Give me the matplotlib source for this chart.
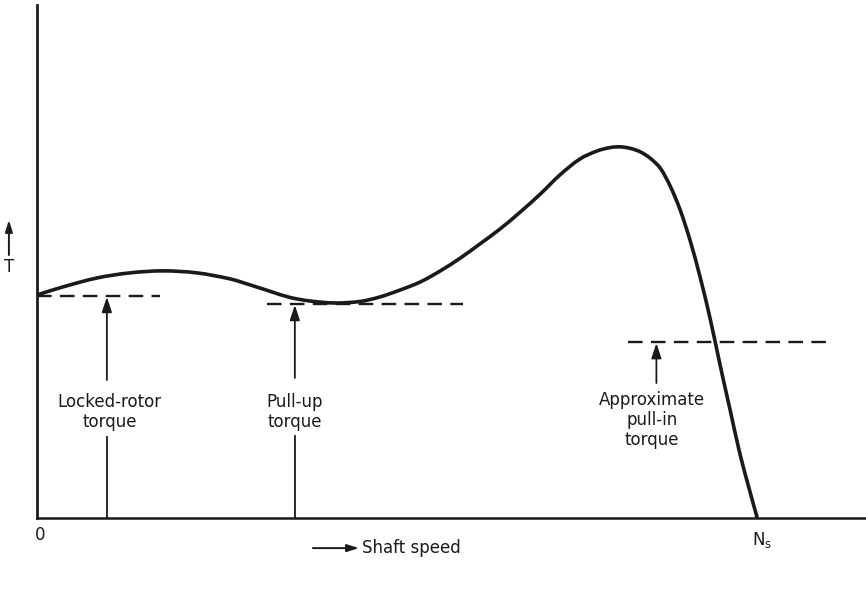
import matplotlib
matplotlib.use("Agg")
import matplotlib.pyplot as plt
import numpy as np
from matplotlib.path import Path
from matplotlib.patches import PathPatch

plt.rcParams['font.family'] = ['DejaVu Sans']
plt.rcParams['mathtext.default'] = 'regular'
plt.rcParams['lines.scale_dashes'] = False

# Torque-speed curve (speed as fraction of synchronous speed Ns, torque relative to locked-rotor)
speed = [0.000, 0.036, 0.083, 0.129, 0.175, 0.222, 0.268, 0.296, 0.324, 0.351,
         0.379, 0.414, 0.449, 0.476, 0.504, 0.532, 0.560, 0.588, 0.615, 0.643,
         0.671, 0.699, 0.726, 0.754, 0.778, 0.796, 0.810, 0.824, 0.838, 0.851,
         0.865, 0.879, 0.893, 0.907, 0.921, 0.935, 0.949, 0.963, 0.976, 0.990,
         1.000]
torque = [1.000, 1.036, 1.076, 1.099, 1.108, 1.099, 1.072, 1.045, 1.016, 0.989,
          0.973, 0.964, 0.971, 0.991, 1.022, 1.058, 1.108, 1.166, 1.229, 1.296,
          1.372, 1.453, 1.538, 1.610, 1.646, 1.661, 1.664, 1.657, 1.641, 1.614,
          1.570, 1.489, 1.381, 1.242, 1.076, 0.888, 0.677, 0.475, 0.287, 0.117,
          0.000]

# Reference torque levels (dashed lines)
ref_labels = ["Locked-rotor\ntorque", "Pull-up\ntorque", "Approximate\npull-in\ntorque"]
ref_levels = [0.996, 0.960, 0.789]
ref_x0 = [0.000, 0.319, 0.821]
ref_x1 = [0.171, 0.592, 1.104]
arrow_x = [0.097, 0.358, 0.860]
arrow_tail = [0.619, 0.628, 0.605]
lower_line_top = [0.363, 0.368, None]
label_x = [0.101, 0.358, 0.854]
label_y = [0.475, 0.475, 0.439]

INK = '#1a1a1a'

fig = plt.figure(figsize=(8.66, 5.90), dpi=100)
ax = fig.add_axes([37/866, 72/590, 829/866, 513/590])
ax.set_xlim(0, 1.151)
ax.set_ylim(0, 2.300)
for s in ['top', 'right']:
    ax.spines[s].set_visible(False)
ax.spines['left'].set_linewidth(2.0)
ax.spines['bottom'].set_linewidth(1.8)
ax.spines['left'].set_color(INK)
ax.spines['bottom'].set_color(INK)
ax.set_xticks([])
ax.set_yticks([])

# smooth curve through the read points (chord-length Hermite rendered as cubic Bezier path)
scale = np.array([720.0, 223.0])          # approximate display aspect, for arc-length weighting
Q = np.column_stack([speed, torque]) * scale
d = np.linalg.norm(np.diff(Q, axis=0), axis=1)
m = np.zeros_like(Q)
m[0] = (Q[1] - Q[0]) / d[0]
m[-1] = (Q[-1] - Q[-2]) / d[-1]
for i in range(1, len(Q) - 1):
    m[i] = (Q[i + 1] - Q[i - 1]) / (d[i - 1] + d[i])
verts = [tuple(Q[0] / scale)]
codes = [Path.MOVETO]
for i in range(len(Q) - 1):
    c1 = Q[i] + m[i] * d[i] / 3.0
    c2 = Q[i + 1] - m[i + 1] * d[i] / 3.0
    verts += [tuple(c1 / scale), tuple(c2 / scale), tuple(Q[i + 1] / scale)]
    codes += [Path.CURVE4] * 3
ax.add_patch(PathPatch(Path(verts, codes), fill=False, edgecolor=INK, lw=2.6,
                       capstyle='butt', joinstyle='round', zorder=3))

for lvl, x0, x1 in zip(ref_levels, ref_x0, ref_x1):
    ax.plot([x0, x1], [lvl, lvl], color=INK, lw=1.7, dashes=(10.5, 6.0), zorder=2)

for axx, lvl, tail, low, lab, lx, ly in zip(arrow_x, ref_levels, arrow_tail,
                                             lower_line_top, ref_labels, label_x, label_y):
    ax.annotate('', xy=(axx, lvl - 0.005), xytext=(axx, tail),
                arrowprops=dict(arrowstyle='-|>,head_length=0.9,head_width=0.3',
                                color=INK, lw=1.3, shrinkA=0, shrinkB=0))
    if low is not None:
        ax.plot([axx, axx], [0, low], color=INK, lw=1.3)
    ax.text(lx, ly, lab, ha='center', va='center', fontsize=12, linespacing=1.15, color=INK)

# axis annotations
ax.text(0.004, -0.076, "0", ha='center', va='center', fontsize=12, color=INK, clip_on=False)
ax.text(1.006, -0.099, "N$_s$", ha='center', va='center', fontsize=12, color=INK, clip_on=False)
ax.annotate('', xy=(0.447, -0.135), xytext=(0.383, -0.135), xycoords='data',
            arrowprops=dict(arrowstyle='-|>,head_length=0.7,head_width=0.22',
                            color=INK, lw=1.4, shrinkA=0, shrinkB=0),
            annotation_clip=False)
ax.text(0.451, -0.135, "Shaft speed", ha='left', va='center', fontsize=12, color=INK, clip_on=False)
ax.annotate('', xy=(-0.039, 1.336), xytext=(-0.039, 1.179), xycoords='data',
            arrowprops=dict(arrowstyle='-|>,head_length=0.7,head_width=0.22',
                            color=INK, lw=1.4, shrinkA=0, shrinkB=0),
            annotation_clip=False)
ax.text(-0.039, 1.127, "T", ha='center', va='center', fontsize=12, color=INK, clip_on=False)

fig.savefig("out.png", dpi=100)
